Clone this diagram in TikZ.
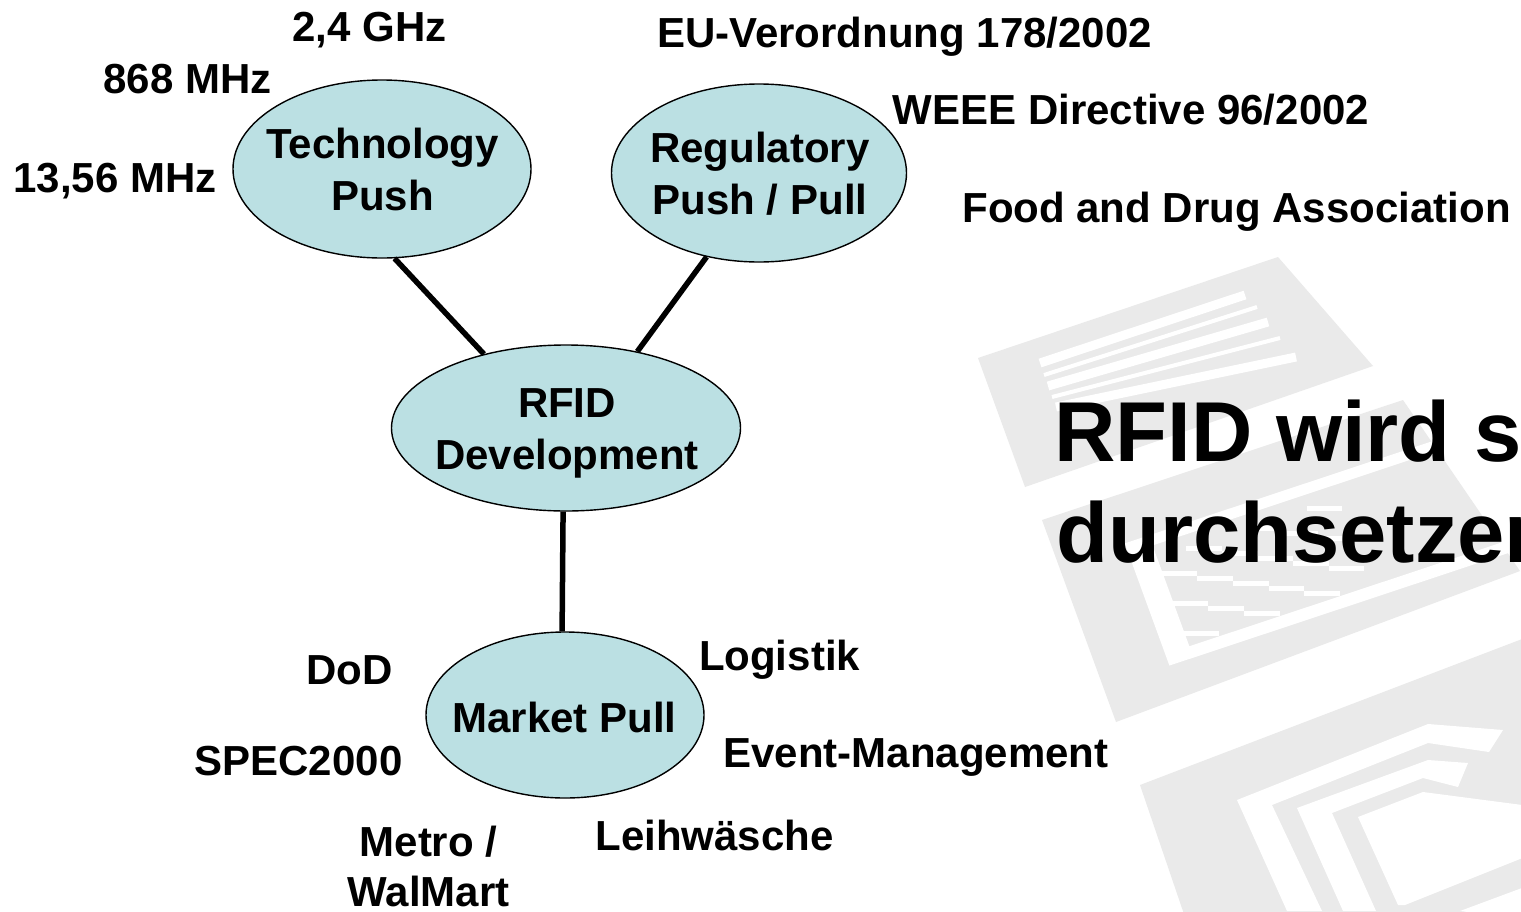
\documentclass[tikz,border=0pt]{standalone}
\usepackage{fontspec}
\setmainfont{Liberation Sans}
\usetikzlibrary{shapes.geometric}
\definecolor{bubblefill}{RGB}{187,224,227}
\definecolor{wmgrey}{RGB}{234,234,234}
\tikzset{
  bubblenode/.style={ellipse, draw=black, line width=1.4pt, fill=bubblefill, inner sep=0pt},
  btext/.style={font=\fontsize{42}{52}\selectfont\bfseries, align=center, inner sep=0pt},
  lbl/.style={font=\fontsize{42}{50}\selectfont\bfseries, inner sep=0pt, anchor=base},
  titletext/.style={font=\fontsize{85}{102}\selectfont\bfseries, inner sep=0pt, anchor=base west},
  link/.style={line width=5.5pt, draw=black},
  wmcard/.style={fill=wmgrey, draw=none},
  wmgap/.style={fill=white, draw=none}
}
\begin{document}
\begin{tikzpicture}[x=1pt, y=-1pt]
\useasboundingbox (0,0) rectangle (1521,911);
\fill[white] (0,0) rectangle (1521,911);
\begin{scope}
\clip (0,0) rectangle (1521,911);
% watermark card 1 (lines)
\fill[wmcard] (978,358) -- (1278,257) -- (1373,366) -- (1025,487) -- cycle;
\draw[white, line width=9pt] (1040,363) -- (1245,295);
\draw[white, line width=4pt] (1044,375) -- (1257,307);
\draw[white, line width=9pt] (1048,386) -- (1268,322);
\draw[white, line width=4pt] (1052,397) -- (1280,338);
\draw[white, line width=9pt] (1056,407) -- (1296,357);
% watermark card 2 (chip pattern)
\fill[wmcard] (1042,520) -- (1403,400) -- (1520,571) -- (1116,722) -- cycle;
\begin{scope}[shift={(1042,520)}, x={(30.1pt,10pt)}, y={(4.6pt,-12.6pt)}]
  \fill[wmgap] (2.2,3.6) -- (14,3.6) -- (14,4.4) -- (3,4.4) -- (3,12.4) -- (14,12.4) -- (14,13.3) -- (2.2,13.3) -- cycle;
  \foreach \i in {0,...,5}{
    \foreach \j in {0,...,5}{
      \pgfmathtruncatemacro{\cellodd}{mod(\i+\j,2)}
      \ifnum\cellodd=1
        \fill[wmgap] (3+\i,5.2+1.2*\j) rectangle (4+\i,6.4+1.2*\j);
      \fi
    }
  }
\end{scope}
% watermark card 3 (antenna coil)
\fill[wmcard] (1140,785) -- (1530,636) -- (1530,920) -- (1186,920) -- cycle;
\fill[wmgap] (1237,800) -- (1428,724) -- (1503,730) -- (1489,752) -- (1428,743) -- (1272,805) -- (1322,911) -- (1287,911) -- cycle;
\fill[wmgap] (1297,808) -- (1428,760) -- (1468,763) -- (1458,787) -- (1423,778) -- (1332,813) -- (1376,911) -- (1343,911) -- cycle;
\fill[wmgap] (1358,817) -- (1423,792) -- (1530,806) -- (1530,855) -- (1405,905) -- (1398,905) -- cycle;
\fill[wmgap] (1460,911) -- (1530,885) -- (1530,920) -- cycle;
% title
\node[titletext] (title1) at (1054,461) {RFID wird sich};
\node[titletext] (title2) at (1056,562) {durchsetzen};
\end{scope}

% bubbles
\node[bubblenode, minimum width=298pt, minimum height=178pt] (tech) at (382,169) {};
\node[bubblenode, minimum width=295pt, minimum height=178pt] (reg) at (759,173) {};
\node[bubblenode, minimum width=349pt, minimum height=166pt] (rfid) at (566,428) {};
\node[bubblenode, minimum width=278pt, minimum height=166pt] (market) at (565,715) {};

\draw[link] (tech.-82) -- (rfid.138);
\draw[link] (reg.-122.6) -- (rfid.47.4);
\draw[link] (rfid.-92.8) -- (market.92.1);

\node[btext] (techtxt) at (382.5,169.7) {Technology\\Push};
\node[btext] (regtxt) at (760,174) {Regulatory\\Push / Pull};
\node[btext] (rfidtxt) at (567,433.8) {RFID\\Development};
\node[lbl] (markettxt) at (564.5,732) {Market Pull};

% labels
\node[lbl] (f24) at (369.5,41) {2,4 GHz};
\node[lbl] (f868) at (187.5,93) {868 MHz};
\node[lbl] (f1356) at (115,192) {13,56 MHz};
\node[lbl] (euv) at (904.5,47) {EU-Verordnung 178/2002};
\node[lbl] (weee) at (1131,124) {WEEE Directive 96/2002};
\node[lbl] (fda) at (1236.5,222) {Food and Drug Association};
\node[lbl] (dod) at (349.5,684) {DoD};
\node[lbl] (spec) at (298.5,775) {SPEC2000};
\node[btext, font=\fontsize{42}{50}\selectfont\bfseries] (metro) at (428.5,866) {Metro /\\WalMart};
\node[lbl] (logistik) at (779.5,670) {Logistik};
\node[lbl] (event) at (916,767) {Event-Management};
\node[lbl] (leih) at (714.5,850) {Leihwäsche};
\end{tikzpicture}
\end{document}
